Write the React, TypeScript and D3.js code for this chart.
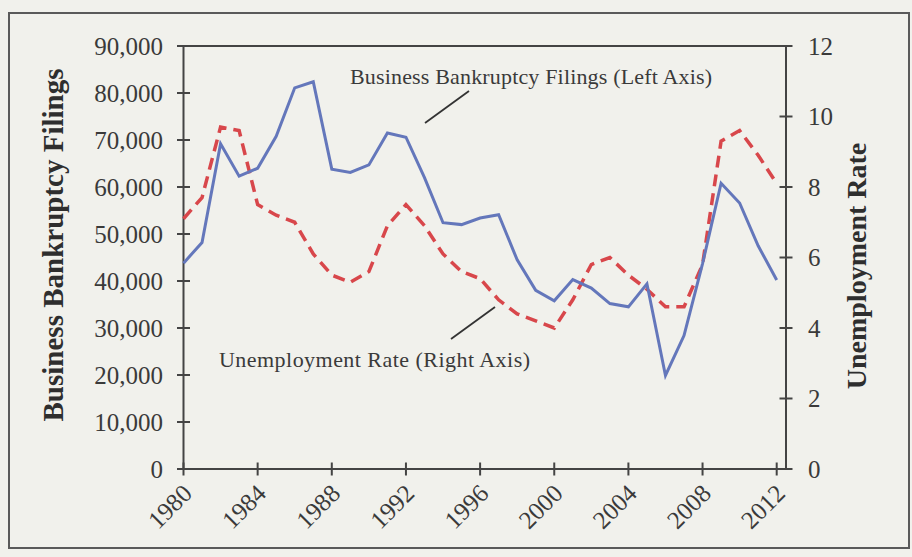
import { format, line, scaleLinear } from "d3";

const W = 912;
const H = 557;
const M = { top: 46, right: 786, bottom: 469, left: 183.5 };

const years = [
  1980, 1981, 1982, 1983, 1984, 1985, 1986, 1987, 1988, 1989, 1990, 1991, 1992, 1993, 1994, 1995, 1996,
  1997, 1998, 1999, 2000, 2001, 2002, 2003, 2004, 2005, 2006, 2007, 2008, 2009, 2010, 2011, 2012,
];
const filings = [
  43800, 48200, 69200, 62300, 64000, 70800, 81100, 82400, 63800, 63100, 64700, 71500, 70600, 62000, 52400,
  52000, 53400, 54100, 44500, 38000, 35800, 40300, 38500, 35200, 34500, 39400, 19900, 28400, 43700, 60800,
  56600, 47500, 40200,
];
const unemployment = [
  7.1, 7.7, 9.7, 9.6, 7.5, 7.2, 7.0, 6.1, 5.5, 5.3, 5.6, 6.9, 7.5, 6.9, 6.1, 5.6, 5.4, 4.8, 4.4, 4.2, 4.0,
  4.8, 5.8, 6.0, 5.5, 5.1, 4.6, 4.6, 5.8, 9.3, 9.6, 8.9, 8.1,
];
const xTicks = [1980, 1984, 1988, 1992, 1996, 2000, 2004, 2008, 2012];
const leftTicks = [0, 10000, 20000, 30000, 40000, 50000, 60000, 70000, 80000, 90000];
const rightTicks = [0, 2, 4, 6, 8, 10, 12];

const SERIF = "'Liberation Serif', 'Times New Roman', serif";
const INK = "#3a3a3a";
const AXIS = "#444";
const BLUE = "#6477bb";
const RED = "#d8474b";

export default function App() {
  const x = scaleLinear().domain([1980, 2012]).range([M.left, 776.7]);
  const yL = scaleLinear().domain([0, 90000]).range([M.bottom, M.top]);
  const yR = scaleLinear().domain([0, 12]).range([M.bottom, M.top]);
  const fmt = format(",");

  const blue =
    line<number>()
      .x((_, i) => x(years[i]))
      .y((d) => yL(d))(filings) ?? "";
  const red =
    line<number>()
      .x((_, i) => x(years[i]))
      .y((d) => yR(d))(unemployment) ?? "";

  return (
    <svg
      width={W}
      height={H}
      viewBox={`0 0 ${W} ${H}`}
      style={{ position: "absolute", left: 0, top: 0, display: "block" }}
      fontFamily={SERIF}
    >
      <rect width={W} height={H} fill="#f1f1ec" />
      <rect x={9} y={13} width={900} height={535} fill="none" stroke="#5a5a5a" strokeWidth={2} />

      {/* frame: left, right, top, bottom */}
      <line x1={M.left} x2={M.left} y1={M.top} y2={M.bottom} stroke={AXIS} strokeWidth={2} />
      <line x1={M.right} x2={M.right} y1={M.top} y2={M.bottom} stroke={AXIS} strokeWidth={2} />
      <line x1={M.left} x2={M.right} y1={M.top} y2={M.top} stroke={AXIS} strokeWidth={2} />
      <line x1={M.left} x2={M.right} y1={M.bottom} y2={M.bottom} stroke={AXIS} strokeWidth={2} />

      {leftTicks.map((t) => (
        <g key={`l${t}`}>
          <line x1={M.left - 6.5} x2={M.left + 6.5} y1={yL(t)} y2={yL(t)} stroke={AXIS} strokeWidth={2} />
          <text x={163} y={yL(t)} dy="0.34em" textAnchor="end" fontSize={25} fill={INK}>
            {fmt(t)}
          </text>
        </g>
      ))}
      {rightTicks.map((t) => (
        <g key={`r${t}`}>
          <line x1={M.right - 6.5} x2={M.right + 6.5} y1={yR(t)} y2={yR(t)} stroke={AXIS} strokeWidth={2} />
          <text x={808} y={yR(t)} dy="0.34em" textAnchor="start" fontSize={25} fill={INK}>
            {t}
          </text>
        </g>
      ))}
      {xTicks.map((t) => (
        <g key={`x${t}`}>
          <line x1={x(t)} x2={x(t)} y1={M.bottom - 6.5} y2={M.bottom + 6.5} stroke={AXIS} strokeWidth={2} />
          <text
            transform={`translate(${x(t) + 10},${M.bottom + 26}) rotate(-45)`}
            textAnchor="end"
            fontSize={25}
            fill={INK}
          >
            {t}
          </text>
        </g>
      ))}

      <text
        transform={`translate(63,245) rotate(-90)`}
        textAnchor="middle"
        fontSize={29}
        fontWeight="bold"
        fill="#2e2e2e"
      >
        Business Bankruptcy Filings
      </text>
      <text
        transform={`translate(866,266) rotate(-90)`}
        textAnchor="middle"
        fontSize={28}
        fontWeight="bold"
        fill="#2e2e2e"
      >
        Unemployment Rate
      </text>

      <path d={red} fill="none" stroke={RED} strokeWidth={3.5} strokeDasharray="12 7" />
      <path d={blue} fill="none" stroke={BLUE} strokeWidth={3} strokeLinejoin="miter" />

      {/* annotations */}
      <text x={350} y={84} fontSize={22} fill={INK} textLength={362} lengthAdjust="spacing">
        Business Bankruptcy Filings (Left Axis)
      </text>
      <line x1={425} y1={123} x2={469} y2={91} stroke="#333" strokeWidth={1.8} />
      <text x={219} y={367} fontSize={22} fill={INK} textLength={311} lengthAdjust="spacing">
        Unemployment Rate (Right Axis)
      </text>
      <line x1={451} y1={339} x2={495} y2={307} stroke="#333" strokeWidth={1.8} />
    </svg>
  );
}
